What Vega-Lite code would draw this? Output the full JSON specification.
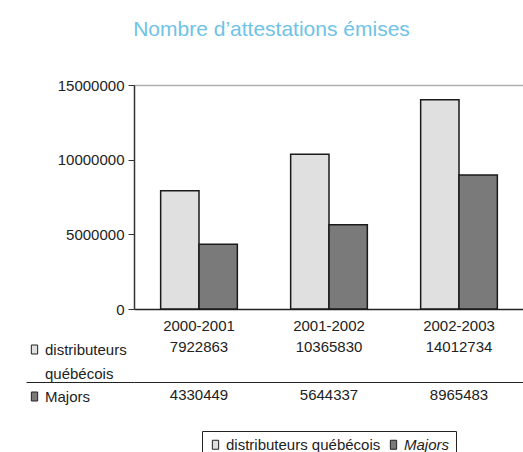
{
  "$schema": "https://vega.github.io/schema/vega-lite/v6.json",
  "padding": {"left": 19, "top": 19, "right": 0, "bottom": 0},
  "background": "white",
  "datasets": {
    "d": [
      {"periode": "2000-2001", "serie": "distributeurs québécois", "valeur": 7922863},
      {"periode": "2000-2001", "serie": "Majors", "valeur": 4330449},
      {"periode": "2001-2002", "serie": "distributeurs québécois", "valeur": 10365830},
      {"periode": "2001-2002", "serie": "Majors", "valeur": 5644337},
      {"periode": "2002-2003", "serie": "distributeurs québécois", "valeur": 14012734},
      {"periode": "2002-2003", "serie": "Majors", "valeur": 8965483}
    ]
  },
  "title": {
    "text": "Nombre d’attestations émises",
    "anchor": "middle",
    "fontSize": 21,
    "font": "Liberation Sans",
    "fontWeight": "normal",
    "color": "#6ec3e6",
    "offset": 38
  },
  "spacing": 0,
  "vconcat": [
    {
      "width": 390,
      "height": 224,
      "data": {"name": "d"},
      "mark": {"type": "bar", "stroke": "#1a1a1a", "strokeWidth": 1.5},
      "encoding": {
        "x": {
          "field": "periode", "type": "nominal", "sort": null,
          "scale": {"paddingInner": 0.41, "paddingOuter": 0.205},
          "axis": {"title": null, "labelAngle": 0, "ticks": false, "tickSize": 0, "labelPadding": 9,
                   "domainColor": "#222", "domainWidth": 1.5, "labelFontSize": 15, "labelColor": "#222", "labelFont": "Liberation Sans"}
        },
        "xOffset": {"field": "serie", "type": "nominal", "sort": ["distributeurs québécois", "Majors"]},
        "y": {
          "field": "valeur", "type": "quantitative",
          "scale": {"domain": [0, 15000000], "nice": false},
          "axis": {"title": null, "values": [0, 5000000, 10000000, 15000000], "format": "d",
                   "grid": true,
                   "gridColor": {"condition": {"test": "datum.value == 15000000", "value": "#b0b0b0"}, "value": "transparent"},
                   "gridWidth": 1.5, "domainColor": "#333", "domainWidth": 1.5, "tickColor": "#333", "tickSize": 6,
                   "labelPadding": 4, "labelFontSize": 15, "labelColor": "#222", "labelFont": "Liberation Sans"}
        },
        "fill": {
          "field": "serie", "type": "nominal",
          "scale": {"domain": ["distributeurs québécois", "Majors"], "range": ["#e0e0e0", "#7a7a7a"]},
          "legend": {
            "orient": "bottom", "direction": "horizontal", "title": null,
            "strokeColor": "#222", "padding": 6, "offset": 1,
            "symbolType": "M-0.7,-1H0.7V1H-0.7Z", "symbolSize": 81,
            "symbolStrokeColor": "#222", "symbolStrokeWidth": 1,
            "labelFontSize": 15, "labelColor": "#222", "labelFont": "Liberation Sans",
            "labelOffset": 3, "columnPadding": 5,
            "encode": {"labels": {"update": {"fontStyle": {"signal": "datum.label == 'Majors' ? 'italic' : 'normal'"}}}}
          }
        }
      }
    },
    {
      "width": 390,
      "height": 96,
      "data": {"name": "d"},
      "layer": [
        {
          "mark": {"type": "text", "fontSize": 15, "font": "Liberation Sans", "color": "#222", "dy": -11},
          "encoding": {
            "x": {"field": "periode", "type": "nominal", "sort": null,
                  "scale": {"paddingInner": 0.41, "paddingOuter": 0.205}, "axis": null},
            "y": {"field": "serie", "type": "nominal", "sort": ["distributeurs québécois", "Majors"],
                  "scale": {"type": "band", "paddingInner": 0, "paddingOuter": 0},
                  "axis": {"title": null, "labels": false, "domain": false, "grid": true,
                           "bandPosition": 0, "tickExtra": false, "tickSize": 108,
                           "tickColor": {"condition": {"test": "datum.value == 'Majors'", "value": "#222"}, "value": "transparent"},
                           "gridColor": {"condition": {"test": "datum.value == 'Majors'", "value": "#222"}, "value": "transparent"},
                           "tickWidth": 1, "gridWidth": 1}},
            "text": {"field": "valeur", "type": "quantitative", "format": "d"}
          }
        },
        {
          "mark": {"type": "point", "shape": "square", "filled": true, "size": 0, "opacity": 0},
          "encoding": {
            "x": {"field": "periode", "type": "nominal", "sort": null},
            "y": {"field": "serie", "type": "nominal", "sort": ["distributeurs québécois", "Majors"]},
            "color": {
              "field": "serie", "type": "nominal",
              "scale": {"domain": ["distributeurs québécois", "Majors"], "range": ["#e0e0e0", "#7a7a7a"]},
              "legend": {
                "orient": "left", "title": null, "offset": -110, "padding": 8,
                "symbolType": "M-0.7,-1H0.7V1H-0.7Z", "symbolSize": 81,
                "symbolStrokeColor": "#222", "symbolStrokeWidth": 1, "symbolOpacity": 1,
                "labelFontSize": 15, "labelColor": "#222", "labelFont": "Liberation Sans",
                "labelOffset": 3, "labelLimit": 200, "rowPadding": 7,
                "labelExpr": "datum.label == 'distributeurs québécois' ? ['distributeurs', 'québécois'] : datum.label",
                "encode": {"labels": {"update": {"lineHeight": {"value": 24}}}}
              }
            }
          }
        }
      ]
    }
  ],
  "resolve": {"scale": {"color": "independent"}, "legend": {"color": "independent"}},
  "config": {
    "view": {"stroke": null},
    "font": "Liberation Sans",
    "legend": {"layout": {"bottom": {"anchor": "middle"}}}
  }
}
